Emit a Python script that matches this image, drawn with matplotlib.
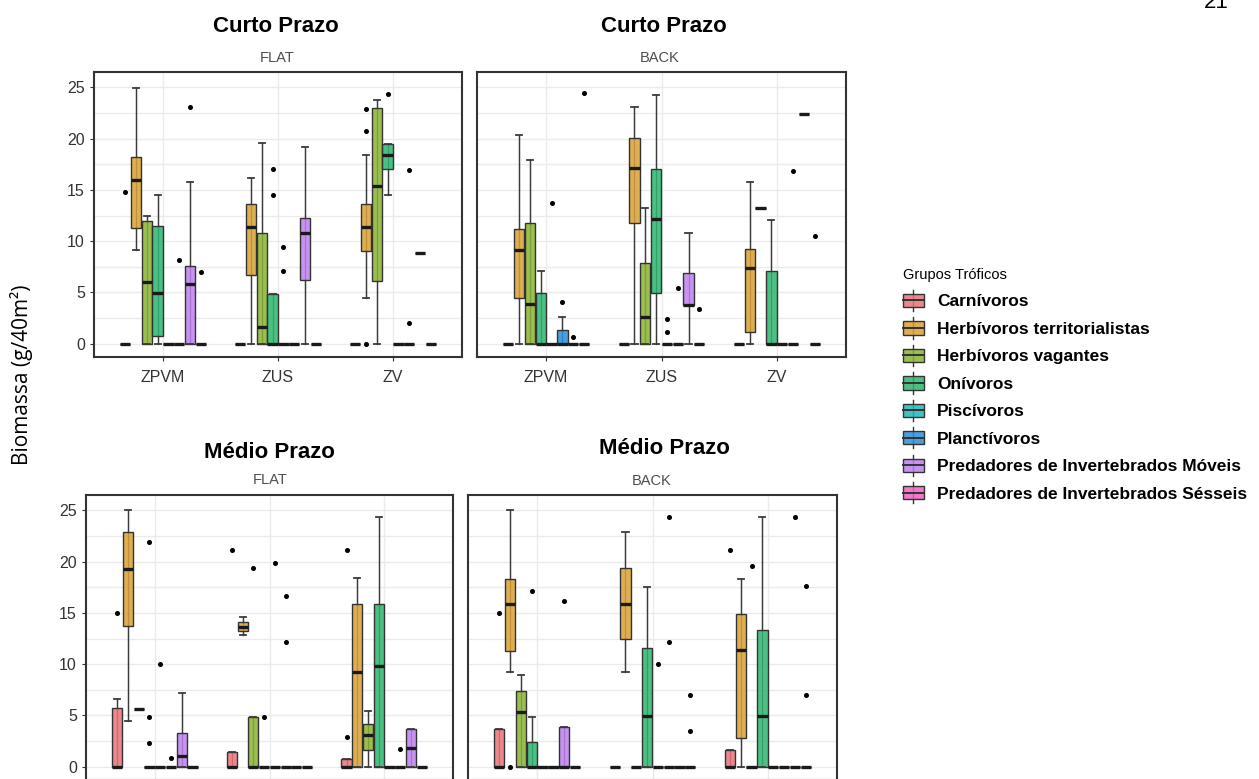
import matplotlib
matplotlib.use("Agg")
import matplotlib.pyplot as plt
from matplotlib.patches import Rectangle, Patch
from matplotlib.lines import Line2D
from matplotlib.legend_handler import HandlerBase
from matplotlib.colors import to_rgba
import numpy as np

plt.rcParams["font.family"] = ["Liberation Sans", "DejaVu Sans"]

grupos = ["Carnívoros", "Herbívoros territorialistas", "Herbívoros vagantes",
          "Onívoros", "Piscívoros", "Planctívoros",
          "Predadores de Invertebrados Móveis", "Predadores de Invertebrados Sésseis"]
cores = ["#E8737A", "#D8A134", "#8AB333", "#2DB56E",
         "#22B8B8", "#2A8FD8", "#BE80EE", "#EE62C4"]
zonas = ["ZPVM", "ZUS", "ZV"]

# per group: (whisker low, q1, median, q3, whisker high, outliers)
Z0 = (0, 0, 0, 0, 0, [])

# Curto Prazo - FLAT
cp_flat_zpvm = [(0, 0, 0, 0, 0, [14.8]), (9.1, 11.3, 16.0, 18.2, 24.9, []),
                (0, 0, 6.0, 12.0, 12.5, []), (0, 0.7, 4.9, 11.5, 14.5, []),
                Z0, (0, 0, 0, 0, 0, [8.2]),
                (0, 0, 5.8, 7.6, 15.8, [23.1]), (0, 0, 0, 0, 0, [7.0])]
cp_flat_zus = [Z0, (0, 6.7, 11.4, 13.6, 16.2, []),
               (0, 0, 1.6, 10.8, 19.6, []), (0, 0, 0, 4.8, 4.8, [17.0, 14.5]),
               (0, 0, 0, 0, 0, [9.4, 7.1]), Z0,
               (0, 6.2, 10.8, 12.3, 19.2, []), Z0]
cp_flat_zv = [Z0, (4.5, 9.0, 11.4, 13.6, 18.4, [22.9, 20.7, 0]),
              (0, 6.1, 15.4, 23.0, 23.8, []), (14.5, 17.0, 18.4, 19.5, 19.5, [24.4]),
              Z0, (0, 0, 0, 0, 0, [16.9, 2.0]),
              (8.8, 8.8, 8.8, 8.8, 8.8, []), Z0]

# Curto Prazo - BACK
cp_back_zpvm = [Z0, (0, 4.5, 9.1, 11.2, 20.4, []),
                (0, 0, 3.9, 11.8, 17.9, []), (0, 0, 0, 4.9, 7.1, []),
                (0, 0, 0, 0, 0, [13.7]), (0, 0, 0, 1.3, 2.6, [4.1]),
                (0, 0, 0, 0, 0, [0.65]), (0, 0, 0, 0, 0, [24.5])]
cp_back_zus = [Z0, (0, 11.8, 17.1, 20.1, 23.1, []),
               (0, 0, 2.6, 7.9, 13.2, []), (0, 4.9, 12.2, 17.0, 24.3, []),
               (0, 0, 0, 0, 0, [2.4, 1.1]), (0, 0, 0, 0, 0, [5.4]),
               (0, 3.8, 3.8, 6.9, 10.8, []), (0, 0, 0, 0, 0, [3.4])]
cp_back_zv = [Z0, (0, 1.1, 7.4, 9.2, 15.8, []),
              (13.2, 13.2, 13.2, 13.2, 13.2, []), (0, 0, 0, 7.1, 12.1, []),
              Z0, (0, 0, 0, 0, 0, [16.8]),
              (22.4, 22.4, 22.4, 22.4, 22.4, []), (0, 0, 0, 0, 0, [10.5])]

# Medio Prazo - FLAT
mp_flat_zpvm = [(0, 0, 0, 5.7, 6.6, [15.0]), (4.5, 13.7, 19.3, 22.9, 25.0, []),
                (5.6, 5.6, 5.6, 5.6, 5.6, []), (0, 0, 0, 0, 0, [21.9, 4.8, 2.3]),
                (0, 0, 0, 0, 0, [10.0]), (0, 0, 0, 0, 0, [0.8]),
                (0, 0, 1.05, 3.3, 7.2, []), Z0]
mp_flat_zus = [(0, 0, 0, 1.4, 1.4, [21.1]), (12.8, 13.2, 13.6, 14.1, 14.6, []),
               (0, 0, 0, 4.8, 4.8, [19.4]), (0, 0, 0, 0, 0, [4.8]),
               (0, 0, 0, 0, 0, [19.9]), (0, 0, 0, 0, 0, [16.6, 12.2]),
               Z0, Z0]
mp_flat_zv = [(0, 0, 0, 0.7, 0.7, [21.1, 2.9]), (0, 0, 9.2, 15.9, 18.4, []),
              (0, 1.6, 3.1, 4.2, 5.4, []), (0, 0, 9.8, 15.9, 24.4, []),
              Z0, (0, 0, 0, 0, 0, [1.7]),
              (0, 0, 1.8, 3.7, 3.7, []), Z0]

# Medio Prazo - BACK
mp_back_zpvm = [(0, 0, 0, 3.7, 3.7, [15.0]), (9.2, 11.3, 15.9, 18.3, 25.0, [0]),
                (0, 0, 5.3, 7.4, 8.9, []), (0, 0, 0, 2.4, 4.8, [17.1]),
                Z0, Z0,
                (0, 0, 0, 3.9, 3.9, [16.2]), Z0]
mp_back_zus = [Z0, (9.2, 12.5, 15.9, 19.4, 22.9, []),
               Z0, (0, 0, 4.9, 11.6, 17.5, []),
               (0, 0, 0, 0, 0, [10.0]), (0, 0, 0, 0, 0, [24.4, 12.2]),
               Z0, (0, 0, 0, 0, 0, [7.0, 3.5])]
mp_back_zv = [(0, 0, 0, 1.6, 1.6, [21.1]), (0, 2.8, 11.4, 14.9, 18.3, []),
              (0, 0, 0, 0, 0, [19.6]), (0, 0, 4.9, 13.3, 24.4, []),
              Z0, Z0,
              (0, 0, 0, 0, 0, [24.4]), (0, 0, 0, 0, 0, [17.6, 7.0])]

W, H = 1259, 779
fig = plt.figure(figsize=(W / 100, H / 100), dpi=100)


def fx(x):
    return x / W


def fy(y):
    return 1 - y / H


def add_panel(x0, x1, y0, y1):
    return fig.add_axes([fx(x0), fy(y1), (x1 - x0) / W, (y1 - y0) / H])


slot = 0.75 / 8
bw = slot * 0.95


def draw_panel(ax, dados, left, bottom):
    for i, zona in enumerate(dados):
        for j, (lo, q1, med, q3, hi, out) in enumerate(zona):
            pos = i + 1 + (j - 3.5) * slot
            ax.vlines(pos, lo, hi, color="#3a3a3a", lw=0.9, zorder=2)
            st = [dict(whislo=lo, q1=q1, med=med, q3=q3, whishi=hi, fliers=out)]
            ax.bxp(st, positions=[pos], widths=bw, patch_artist=True,
                   manage_ticks=False, capwidths=bw * 0.6,
                   boxprops=dict(facecolor=to_rgba(cores[j], 0.85),
                                 edgecolor="#333333", lw=1.0),
                   medianprops=dict(color="#1a1a1a", lw=2.4),
                   whiskerprops=dict(color="#3a3a3a", lw=0.9),
                   capprops=dict(color="#3a3a3a", lw=1.3),
                   flierprops=dict(marker="o", ms=2.6, mfc="black",
                                   mec="black", lw=0))
    ax.set_xlim(0.4, 3.6)
    ax.set_ylim(-1.3, 26.5)
    ax.set_xticks([1, 2, 3])
    ax.set_xticklabels(zonas, fontsize=11.5, color="#333333")
    ax.set_yticks([0, 5, 10, 15, 20, 25])
    ax.set_yticks(np.arange(2.5, 25, 5), minor=True)
    ax.grid(True, which="both", axis="y", color="#EBEBEB", lw=1.0, zorder=0)
    ax.grid(True, which="major", axis="x", color="#EBEBEB", lw=1.0, zorder=0)
    ax.set_axisbelow(True)
    ax.tick_params(which="minor", length=0)
    ax.tick_params(axis="x", length=3, color="#333333", pad=6)
    if not bottom:
        ax.tick_params(axis="x", labelbottom=False)
    if left:
        ax.tick_params(axis="y", length=3, color="#333333", labelsize=11.5,
                       labelcolor="#333333")
    else:
        ax.tick_params(axis="y", left=False, labelleft=False)
    for s in ax.spines.values():
        s.set_color("#333333")
        s.set_linewidth(1.5)


ax1 = add_panel(94, 462, 72, 357)
ax2 = add_panel(477, 846, 72, 357)
ax3 = add_panel(86, 453, 495, 780)
ax4 = add_panel(468, 837, 495, 780)

draw_panel(ax1, [cp_flat_zpvm, cp_flat_zus, cp_flat_zv], True, True)
draw_panel(ax2, [cp_back_zpvm, cp_back_zus, cp_back_zv], False, True)
# the bottom row is cropped below the zero line, so its zone labels fall outside
draw_panel(ax3, [mp_flat_zpvm, mp_flat_zus, mp_flat_zv], True, False)
draw_panel(ax4, [mp_back_zpvm, mp_back_zus, mp_back_zv], False, False)

tit = dict(fontsize=16, fontweight="bold", ha="center", va="center")
fig.text(fx(276), fy(27), "Curto Prazo", **tit)
fig.text(fx(664), fy(27), "Curto Prazo", **tit)
fig.text(fx(269), fy(453), "Médio Prazo", **tit)
fig.text(fx(664), fy(449), "Médio Prazo", **tit)
strip = dict(fontsize=10.5, color="#4D4D4D", ha="center", va="center")
fig.text(fx(277), fy(58), "FLAT", **strip)
fig.text(fx(660), fy(58), "BACK", **strip)
fig.text(fx(270), fy(480), "FLAT", **strip)
fig.text(fx(652), fy(481), "BACK", **strip)

fig.text(fx(22), fy(375), "Biomassa (g/40m²)", rotation=90, fontsize=15,
         family=["Open Sans", "DejaVu Sans"], ha="center", va="center")
fig.text(fx(1216), fy(3), "21", fontsize=16, ha="center", va="center")


class BoxKey(HandlerBase):
    def create_artists(self, legend, orig_handle, xdescent, ydescent,
                       width, height, fontsize, trans):
        x0, y0 = -xdescent, -ydescent
        fc = orig_handle.get_facecolor()
        stem = Line2D([x0 + width / 2] * 2, [y0 - 0.3 * height, y0 + 1.3 * height],
                      color="#333333", lw=1.0, transform=trans)
        box = Rectangle((x0, y0), width, height, facecolor=fc,
                        edgecolor="#333333", lw=1.0, transform=trans)
        mid = Line2D([x0, x0 + width], [y0 + height / 2] * 2,
                     color="#333333", lw=1.4, transform=trans)
        return [stem, box, mid]


handles = [Patch(facecolor=to_rgba(c, 0.85)) for c in cores]
fig.legend(handles, grupos, loc="upper left", bbox_to_anchor=(fx(903), fy(268)),
           frameon=False, title="Grupos Tróficos", alignment="left",
           prop=dict(weight="bold", size=12.5),
           title_fontproperties=dict(size=10.5),
           handler_map={Patch: BoxKey()}, handlelength=1.2, handleheight=0.8,
           handletextpad=0.75, labelspacing=0.68, borderpad=0, borderaxespad=0)

fig.savefig("out.png", dpi=100)
